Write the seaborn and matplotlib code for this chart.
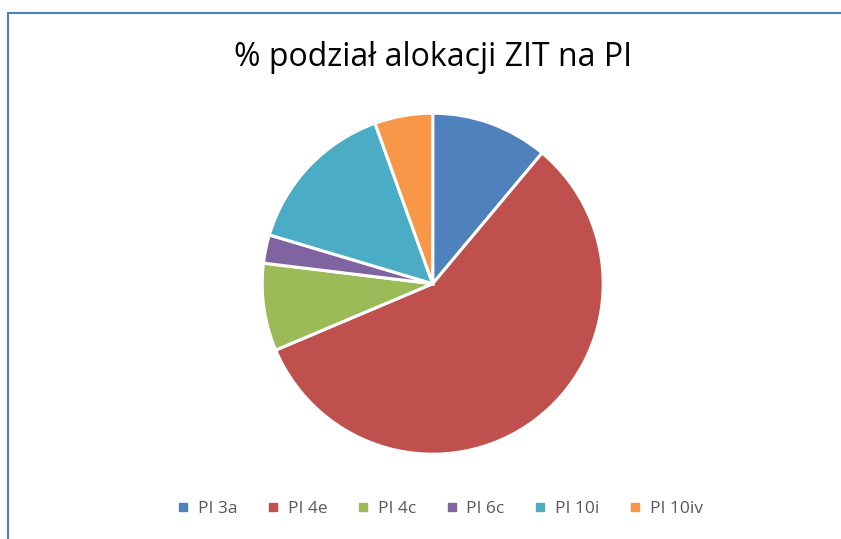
import matplotlib
matplotlib.use("Agg")
import matplotlib.pyplot as plt
from matplotlib.lines import Line2D
import seaborn as sns

categories = ["PI 3a", "PI 4e", "PI 4c", "PI 6c", "PI 10i", "PI 10iv"]
values = [11.1, 57.6, 8.3, 2.7, 14.9, 5.5]
colors = ["#4F81BD", "#C0504D", "#9BBB59", "#8064A2", "#4BACC6", "#F79646"]
title = "% podział alokacji ZIT na PI"

sns.set_style("white")
plt.rcParams['font.family'] = ['Open Sans', 'DejaVu Sans']

W, H = 841, 539
fig = plt.figure(figsize=(W / 100, H / 100), dpi=100)
fig.patch.set_facecolor("white")

cx, cy, r = 432.7, 283.7, 170.5
ax = fig.add_axes([(cx - r) / W, (H - cy - r) / H, 2 * r / W, 2 * r / H])
wedges, _ = ax.pie(values, colors=colors, startangle=90, counterclock=False,
                   radius=1.0, wedgeprops=dict(edgecolor="white", linewidth=2.2))
ax.set_xlim(-1, 1)
ax.set_ylim(-1, 1)
ax.set_aspect("equal")
ax.axis("off")

fig.text(433 / W, 1 - 58 / H, title, ha="center", va="center", fontsize=23, color="black")

handles = [Line2D([0], [0], marker="s", linestyle="none", markersize=6,
                  markerfacecolor=c, markeredgecolor=c) for c in colors]
fig.legend(handles, categories, loc="center", bbox_to_anchor=(440 / W, 1 - 509 / H),
           ncol=6, frameon=False, fontsize=12.5, handlelength=0.7, handletextpad=0.5,
           columnspacing=1.7, labelcolor="#595959")

# chart border (top and left visible)
fig.add_artist(Line2D([8 / W, 8 / W], [0, 1 - 13 / H], color="#4F81BD", linewidth=1.5,
                      transform=fig.transFigure))
fig.add_artist(Line2D([8 / W, 1], [1 - 13 / H, 1 - 13 / H], color="#4F81BD", linewidth=1.5,
                      transform=fig.transFigure))

fig.savefig("out.png", dpi=100, facecolor="white")
